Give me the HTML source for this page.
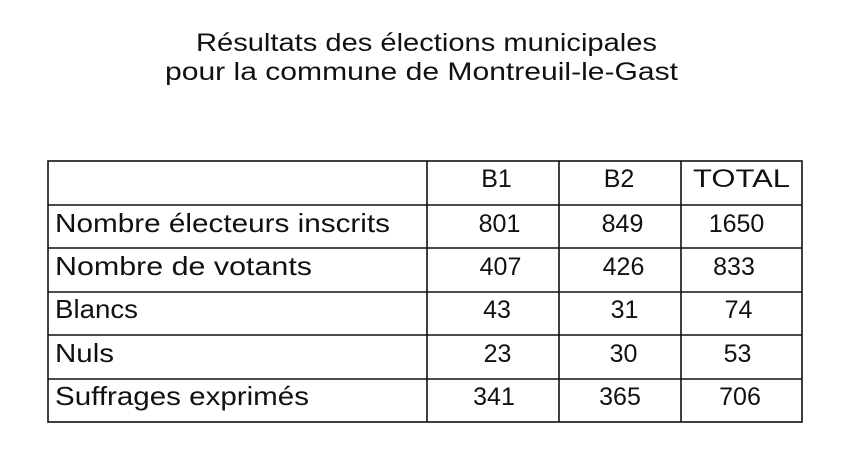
<!DOCTYPE html>
<html>
<head>
<meta charset="utf-8">
<style>
html,body{margin:0;padding:0;background:#fff;}
svg{display:block;}
text{font-family:"Liberation Sans",sans-serif;fill:#111;}
</style>
</head>
<body>
<svg width="859" height="461" viewBox="0 0 859 461" xmlns="http://www.w3.org/2000/svg">
<rect width="859" height="461" fill="#fff"/>
<text x="196" y="51" font-size="25" textLength="461" lengthAdjust="spacingAndGlyphs">Résultats des élections municipales</text>
<text x="165" y="80" font-size="25" textLength="513" lengthAdjust="spacingAndGlyphs">pour la commune de Montreuil-le-Gast</text>

<g stroke="#111" stroke-width="1.6" fill="none">
<rect x="48" y="161" width="754" height="261"/>
<line x1="48" y1="205" x2="802" y2="205"/>
<line x1="48" y1="248" x2="802" y2="248"/>
<line x1="48" y1="292" x2="802" y2="292"/>
<line x1="48" y1="335" x2="802" y2="335"/>
<line x1="48" y1="379" x2="802" y2="379"/>
<line x1="427" y1="161" x2="427" y2="422"/>
<line x1="559" y1="161" x2="559" y2="422"/>
<line x1="681" y1="161" x2="681" y2="422"/>
</g>

<g font-size="26">
<text x="55" y="232" textLength="335" lengthAdjust="spacingAndGlyphs">Nombre électeurs inscrits</text>
<text x="55" y="275" textLength="257" lengthAdjust="spacingAndGlyphs">Nombre de votants</text>
<text x="55" y="318" textLength="83" lengthAdjust="spacingAndGlyphs">Blancs</text>
<text x="55" y="362" textLength="59" lengthAdjust="spacingAndGlyphs">Nuls</text>
<text x="55" y="405" textLength="254" lengthAdjust="spacingAndGlyphs">Suffrages exprimés</text>
</g>

<g font-size="25" text-anchor="middle">
<text x="496.5" y="187">B1</text>
<text x="619" y="187">B2</text>
<text x="741.5" y="187" textLength="97" lengthAdjust="spacingAndGlyphs">TOTAL</text>

<text x="499.5" y="232">801</text>
<text x="622.5" y="232">849</text>
<text x="736.5" y="232">1650</text>

<text x="500.5" y="275">407</text>
<text x="623.5" y="275">426</text>
<text x="734" y="275">833</text>

<text x="497" y="318">43</text>
<text x="624.5" y="318">31</text>
<text x="738.5" y="318">74</text>

<text x="497.5" y="362">23</text>
<text x="623.5" y="362">30</text>
<text x="737.5" y="362">53</text>

<text x="494" y="405">341</text>
<text x="620" y="405">365</text>
<text x="740" y="405">706</text>
</g>
</svg>
</body>
</html>
